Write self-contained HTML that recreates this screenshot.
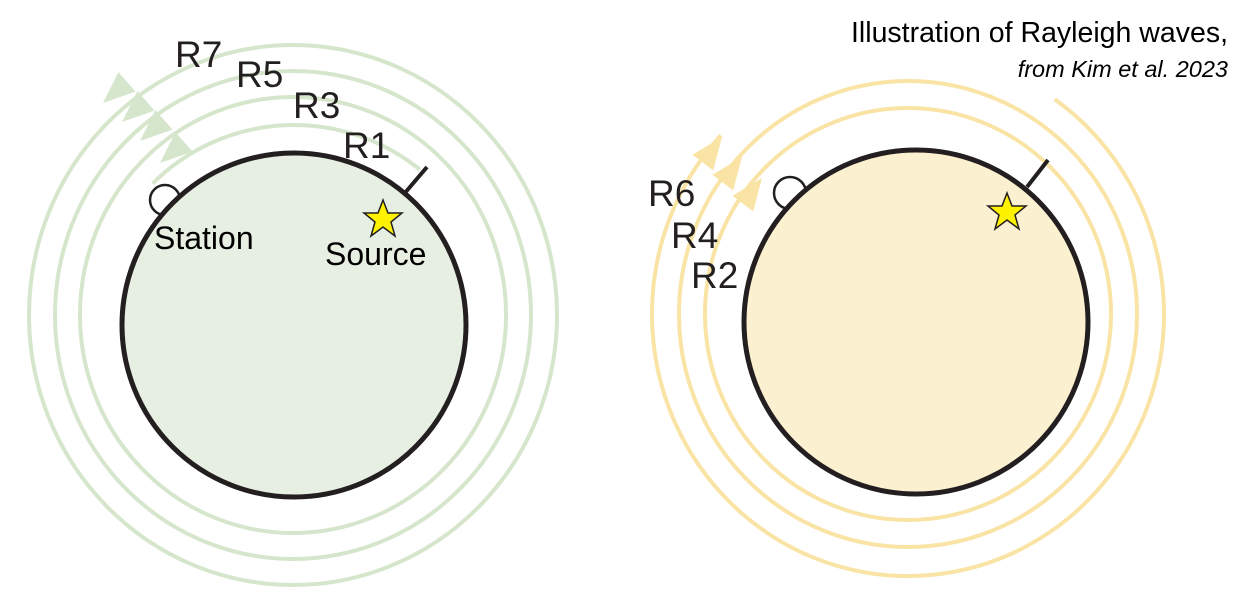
<!DOCTYPE html>
<html><head><meta charset="utf-8"><style>
html,body{margin:0;padding:0;background:#fff;}
svg{display:block;}
</style></head><body>
<svg width="1239" height="610" viewBox="0 0 1239 610" xmlns="http://www.w3.org/2000/svg">
<rect width="1239" height="610" fill="#fff"/>
<!-- LEFT -->
<g fill="none" stroke="#d6e6cc" stroke-width="4">
<ellipse cx="293" cy="315" rx="213" ry="218"/>
<ellipse cx="293" cy="315" rx="238" ry="244"/>
<ellipse cx="293" cy="315" rx="264" ry="270"/>
<path d="M419.9,169.6 A200,200 0 0 0 152.6,183.6"/>
</g>
<g fill="#d6e6cc">
<polygon points="103,103 135.6,91.6 118.4,72.1"/>
<polygon points="122,122 154.6,110.6 137.4,91.1"/>
<polygon points="140,141 172.6,129.6 155.4,110.1"/>
<polygon points="160,163 192.6,151.6 175.4,132.1"/>
</g>
<circle cx="165" cy="200" r="15" fill="#fff" stroke="#231f20" stroke-width="2.5"/>
<circle cx="294" cy="325" r="172" fill="#e7efe2" stroke="#231f20" stroke-width="5"/>
<line x1="404" y1="194" x2="427" y2="167" stroke="#231f20" stroke-width="4"/>
<polygon points="383,200 388,213 402,213 391,222 395,236 383,227 371,236 375,222 364,213 378,213" fill="#fff200" stroke="#231f20" stroke-width="1.5"/>
<g font-family="Liberation Sans, sans-serif" font-size="37" fill="#231f20">
<text x="175" y="67">R7</text>
<text x="236" y="87">R5</text>
<text x="293" y="118">R3</text>
<text x="343" y="158">R1</text>
</g>
<g font-family="Liberation Sans, sans-serif" font-size="32" fill="#000">
<text x="154" y="249">Station</text>
<text x="325" y="265">Source</text>
</g>
<!-- RIGHT -->
<g fill="none" stroke="#f9e4a6" stroke-width="4">
<ellipse cx="908" cy="314" rx="203" ry="206"/>
<ellipse cx="908" cy="314" rx="229" ry="233"/>
<path d="M1054.8,99.4 A256,262 0 1 1 720.8,135.3"/>
</g>
<g fill="#f9e4a6">
<polygon points="722,137 713.2,170.4 692.4,154.8"/>
<polygon points="742,157 733.2,190.4 712.4,174.8"/>
<polygon points="762,178 753.2,211.4 732.4,195.8"/>
</g>
<circle cx="790" cy="193" r="16" fill="#fff" stroke="#231f20" stroke-width="2.5"/>
<circle cx="916" cy="322" r="172" fill="#fbf0cf" stroke="#231f20" stroke-width="5"/>
<line x1="1027" y1="187" x2="1048" y2="160" stroke="#231f20" stroke-width="4"/>
<polygon points="1007,193 1012,206 1026,206 1015,215 1019,229 1007,220 995,229 999,215 988,206 1002,206" fill="#fff200" stroke="#231f20" stroke-width="1.5"/>
<g font-family="Liberation Sans, sans-serif" font-size="37" fill="#231f20">
<text x="648" y="206">R6</text>
<text x="671" y="248">R4</text>
<text x="691" y="288">R2</text>
</g>
<!-- TITLE -->
<text x="1228" y="42" text-anchor="end" font-family="Liberation Sans, sans-serif" font-size="28.5" fill="#000">Illustration of Rayleigh waves,</text>
<text x="1228" y="77" text-anchor="end" font-family="Liberation Sans, sans-serif" font-size="23.5" font-style="italic" fill="#000">from Kim et al. 2023</text>
</svg>
</body></html>
